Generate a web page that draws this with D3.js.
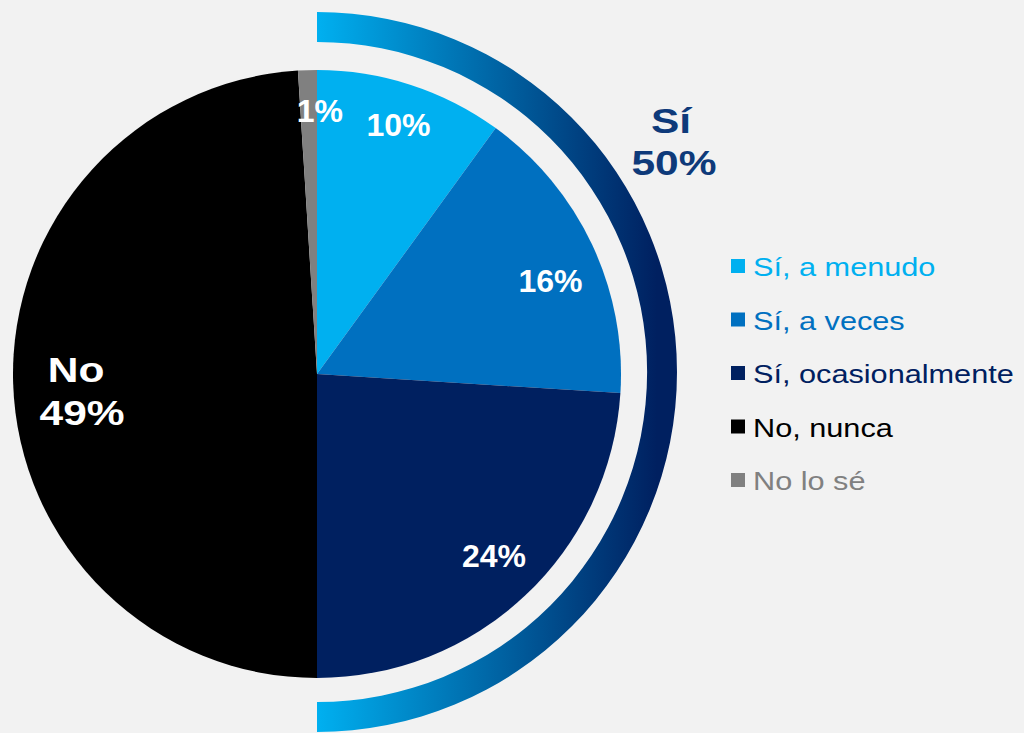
<!DOCTYPE html>
<html>
<head>
<meta charset="utf-8">
<script src="https://cdn.jsdelivr.net/npm/d3@7/dist/d3.min.js"></script>
<style>
  html, body { margin: 0; padding: 0; background: #F2F2F2; }
  svg { display: block; font-family: "Liberation Sans", Arial, sans-serif; }
</style>
</head>
<body>
<svg id="chart" width="1024" height="733"></svg>
<script>
// Survey answers, clockwise from 12 o'clock
const categories = ["Sí, a menudo", "Sí, a veces", "Sí, ocasionalmente", "No, nunca", "No lo sé"];
const values = [10, 16, 24, 49, 1];
const colors = ["#00B0F0", "#0070C0", "#002060", "#000000", "#808080"];

// Group totals
const yesLabel = "Sí";
const yesTotal = 50;
const noLabel = "No";
const noTotal = 49;

const svg = d3.select("#chart");
const cx = 317, cy = 374, R = 304;
const stretch = 1.18; // wide-set lettering for the group labels and legend

// Gradient for the "Sí" bracket arc (in the bracket's local coordinates)
const defs = svg.append("defs");
const grad = defs.append("linearGradient")
  .attr("id", "yesGrad")
  .attr("gradientUnits", "userSpaceOnUse")
  .attr("x1", 0).attr("y1", 0)
  .attr("x2", 340).attr("y2", 0);
grad.append("stop").attr("offset", "0%").attr("stop-color", "#00B0F0");
grad.append("stop").attr("offset", "100%").attr("stop-color", "#002060");

const g = svg.append("g").attr("transform", `translate(${cx},${cy})`);

const pie = d3.pie().sort(null).value(d => d);
const arcs = pie(values);

const arc = d3.arc().innerRadius(0).outerRadius(R);

g.selectAll("path.slice")
  .data(arcs)
  .join("path")
  .attr("class", "slice")
  .attr("d", arc)
  .attr("fill", (d, i) => colors[i]);

// Bracket arc spanning the "Sí" slices
const yesShare = d3.sum(values.slice(0, 3)) / d3.sum(values);
const bracket = d3.arc()
  .innerRadius(330)
  .outerRadius(360)
  .startAngle(0)
  .endAngle(yesShare * 2 * Math.PI);
svg.append("path")
  .attr("transform", `translate(${cx},${cy - 2})`)
  .attr("d", bracket())
  .attr("fill", "url(#yesGrad)");

// Percentage labels inside the "Sí" and "No lo sé" slices
const labelArc = d3.arc().innerRadius(257).outerRadius(257);
const labelIdx = [0, 1, 2, 4];
const nudge = { 0: [2, -5], 1: [1, 16], 2: [1, -5], 4: [11, -6] };
g.selectAll("text.pct")
  .data(labelIdx.map(i => ({ a: arcs[i], i })))
  .join("text")
  .attr("class", "pct")
  .attr("x", d => labelArc.centroid(d.a)[0] + nudge[d.i][0])
  .attr("y", d => labelArc.centroid(d.a)[1] + nudge[d.i][1] + 11)
  .attr("text-anchor", "middle")
  .attr("fill", "#FFFFFF")
  .attr("font-weight", "bold")
  .attr("font-size", 32)
  .text(d => d.a.data + "%");

// Stretched bold label helper
function wideText(parent, x, y, str, size, fill, anchor) {
  return parent.append("text")
    .attr("transform", `translate(${x},${y}) scale(${stretch},1)`)
    .attr("text-anchor", anchor)
    .attr("fill", fill)
    .attr("font-weight", "bold")
    .attr("font-size", size)
    .text(str);
}

// "No" group label
const noArc = d3.arc().innerRadius(240).outerRadius(240);
const noPos = noArc.centroid(arcs[3]);
wideText(g, noPos[0] - 1, noPos[1] + 0, noLabel, 36, "#FFFFFF", "middle");
wideText(g, noPos[0] + 5, noPos[1] + 43, noTotal + "%", 36, "#FFFFFF", "middle");

// "Sí" group label
wideText(svg, 671, 133, yesLabel, 36, "#0E3A7A", "middle");
wideText(svg, 674, 175, yesTotal + "%", 36, "#0E3A7A", "middle");

// Legend
const legend = svg.append("g").attr("transform", "translate(731,266)");
const rowH = 53.5;
const rows = legend.selectAll("g.row")
  .data(categories)
  .join("g")
  .attr("class", "row")
  .attr("transform", (d, i) => `translate(0,${i * rowH})`);
rows.append("rect")
  .attr("x", 0).attr("y", -7)
  .attr("width", 14).attr("height", 14)
  .attr("fill", (d, i) => colors[i]);
rows.append("text")
  .attr("transform", `translate(22,10) scale(${stretch},1)`)
  .attr("font-size", 26)
  .attr("fill", (d, i) => colors[i])
  .text(d => d);
</script>
</body>
</html>
